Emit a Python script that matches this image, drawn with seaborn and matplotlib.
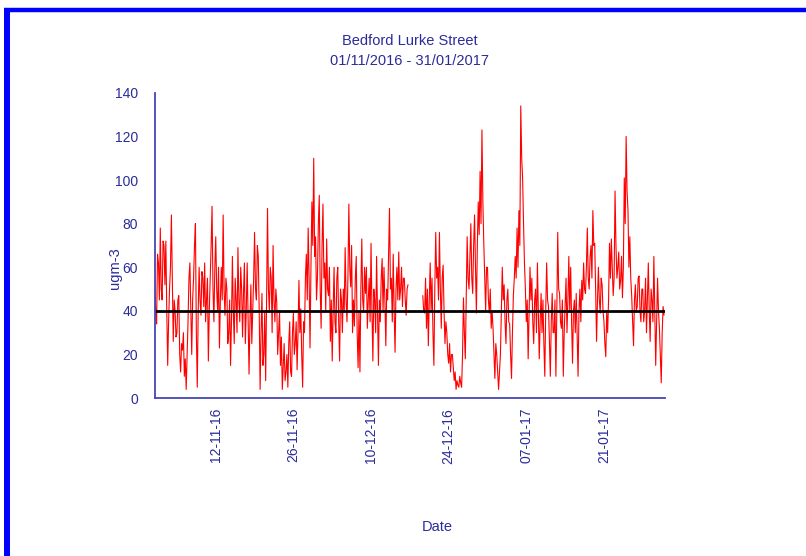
import numpy as np
import pandas as pd
import matplotlib
matplotlib.use("Agg")
import matplotlib.pyplot as plt
import matplotlib.dates as mdates
from matplotlib.lines import Line2D
import seaborn as sns

nan = np.nan

# readings every 4 hours, one row per day
NOV = [
    55, 40, 34, 66, 62, 45,
    78, 50, 45, 72, 70, 52,
    72, 40, 15, 35, 50, 60,
    84, 55, 26, 45, 40, 28,
    30, 45, 47, 20, 12, 25,
    22, 30, 10, 18, 4, 20,
    35, 55, 62, 40, 20, 45,
    55, 70, 80, 30, 5, 40,
    60, 45, 38, 58, 55, 42,
    62, 35, 45, 55, 17, 40,
    55, 70, 88, 50, 35, 60,
    74, 50, 40, 60, 23, 45,
    60, 45, 84, 50, 38, 55,
    50, 25, 30, 45, 15, 35,
    65, 40, 25, 55, 45, 30,
    69, 45, 35, 60, 50, 28,
    48, 62, 25, 40, 62, 35,
    11, 35, 52, 25, 40, 55,
    76, 50, 45, 70, 65, 40,
    4, 30, 48, 15, 20, 40,
    8, 45, 87, 50, 40, 60,
    55, 30, 70, 45, 35, 50,
    44, 20, 30, 40, 15, 28,
    4, 15, 25, 8, 12, 20,
    5, 25, 35, 12, 10, 30,
    39, 20, 25, 35, 13, 30,
    54, 30, 41, 20, 5, 35,
    30, 55, 66, 45, 78, 55,
    23, 60, 90, 70, 110, 65,
    74, 45, 55, 80, 93, 50,
]
DEC = [
    32, 70, 89, 55, 62, 40,
    73, 50, 47, 60, 26, 45,
    17, 40, 60, 35, 30, 55,
    60, 35, 17, 50, 45, 30,
    50, 40, 69, 45, 35, 55,
    89, 60, 51, 70, 30, 45,
    33, 55, 65, 30, 14, 40,
    12, 50, 73, 45, 40, 60,
    48, 60, 32, 45, 55, 35,
    71, 40, 17, 50, 45, 30,
    65, 40, 15, 45, 35, 55,
    64, 40, 60, 45, 24, 50,
    45, 65, 87, 50, 55, 35,
    66, 40, 21, 50, 60, 45,
    67, 45, 50, 60, 42, 55,
    55, 45, 38, 50, 52, nan,
    nan, nan, nan, nan, nan, nan,
    nan, nan, nan, nan, nan, nan,
    nan, nan, 47, 40, 39, 55,
    32, 50, 24, 45, 62, 40,
    55, 30, 15, 50, 76, 55,
    60, 45, 76, 50, 32, 55,
    61, 40, 25, 35, 30, 20,
    16, 25, 12, 20, 20, 14,
    8, 12, 4, 8, 6, 5,
    10, 7, 5, 20, 46, 30,
    18, 45, 74, 55, 50, 65,
    80, 55, 48, 70, 84, 60,
    39, 70, 90, 75, 104, 80,
    123, 90, 71, 55, 40, 60,
    60, 45, 39, 50, 32, 40,
]
JAN = [
    32, 20, 9, 25, 20, 12,
    4, 12, 20, 40, 60, 45,
    52, 35, 25, 45, 50, 35,
    34, 20, 9, 30, 47, 55,
    65, 55, 78, 60, 86, 70,
    134, 110, 101, 80, 62, 50,
    35, 45, 18, 40, 60, 45,
    55, 35, 25, 45, 50, 30,
    62, 40, 18, 35, 48, 30,
    45, 25, 10, 40, 62, 45,
    42, 25, 10, 35, 48, 30,
    30, 45, 10, 40, 76, 50,
    48, 35, 32, 45, 10, 30,
    42, 55, 30, 45, 65, 40,
    60, 35, 16, 40, 45, 30,
    48, 30, 10, 40, 50, 35,
    54, 45, 62, 50, 48, 60,
    78, 55, 50, 65, 70, 55,
    86, 70, 71, 50, 26, 45,
    60, 45, 39, 55, 52, 40,
    35, 25, 19, 40, 30, 45,
    71, 55, 73, 60, 47, 55,
    95, 70, 55, 60, 67, 50,
    54, 65, 46, 60, 101, 80,
    120, 95, 86, 60, 74, 55,
    47, 35, 24, 45, 52, 40,
    42, 55, 56, 40, 35, 50,
    50, 35, 40, 55, 30, 45,
    62, 40, 26, 50, 45, 35,
    65, 40, 15, 35, 55, 40,
    32, 20, 7, 30, 42, 38,
]
OBJECTIVE = 40  # annual mean objective, ugm-3
MAJOR_TICKS = ["2016-11-12", "2016-11-26", "2016-12-10",
               "2016-12-24", "2017-01-07", "2017-01-21"]

NAVY = "#2b2b9b"
AXIS_BLUE = "#4545b5"

values = NOV + DEC + JAN
df = pd.DataFrame({
    "time": pd.date_range("2016-11-01", periods=len(values), freq="4h"),
    "ugm3": values,
})
# split at the data gap so the line breaks there
df["segment"] = df["ugm3"].isna().cumsum()
df = df.dropna()

sns.set_style("white")
plt.rcParams["font.family"] = ["Liberation Sans", "DejaVu Sans"]

fig = plt.figure(figsize=(8.06, 5.56), dpi=100)
ax = fig.add_axes([0.192, 0.284, 0.633, 0.549])

sns.lineplot(data=df, x="time", y="ugm3", units="segment", estimator=None,
             color="#ff0000", linewidth=0.8, ax=ax)
ax.axhline(OBJECTIVE, color="black", linewidth=2)

ax.set_xlim(pd.Timestamp("2016-11-01"), pd.Timestamp("2017-02-01"))
ax.set_ylim(0, 140)
ax.set_yticks(range(0, 141, 20))

majors = pd.to_datetime(MAJOR_TICKS)
ax.set_xticks(majors)
ax.set_xticks(majors - pd.Timedelta(days=7), minor=True)
ax.xaxis.set_major_formatter(mdates.DateFormatter("%d-%m-%y"))
plt.setp(ax.get_xticklabels(), rotation=90)

ax.set_xlabel("")
ax.set_ylabel("")
sns.despine(ax=ax)
for side in ["left", "bottom"]:
    ax.spines[side].set_color(AXIS_BLUE)
    ax.spines[side].set_linewidth(1.3)
ax.tick_params(axis="both", which="major", direction="in", length=5,
               width=1.2, color=AXIS_BLUE, labelcolor=NAVY, labelsize=10)
ax.tick_params(axis="x", which="minor", direction="in", length=3,
               width=1.0, color=AXIS_BLUE)
ax.tick_params(axis="y", pad=12)
ax.tick_params(axis="x", pad=7)

fig.text(0.508, 1 - 41 / 556, "Bedford Lurke Street", ha="center",
         va="center", color=NAVY, fontsize=10.5)
fig.text(0.508, 1 - 61 / 556, "01/11/2016 - 31/01/2017", ha="center",
         va="center", color=NAVY, fontsize=10.5)
fig.text(115 / 806, 1 - 268 / 556, "ugm-3", rotation=90, ha="center",
         va="center", color=NAVY, fontsize=10.5)
fig.text(437 / 806, 1 - 527 / 556, "Date", ha="center", va="center",
         color=NAVY, fontsize=10.5)

# blue frame along the top and left edges
fig.add_artist(Line2D([7 / 806, 7 / 806], [0, 1 - 8 / 556],
                      transform=fig.transFigure, color="#0000ff",
                      linewidth=4.3, solid_capstyle="butt"))
fig.add_artist(Line2D([4 / 806, 1], [1 - 10 / 556, 1 - 10 / 556],
                      transform=fig.transFigure, color="#0000ff",
                      linewidth=3.2, solid_capstyle="butt"))

fig.savefig("out.png", dpi=100)
